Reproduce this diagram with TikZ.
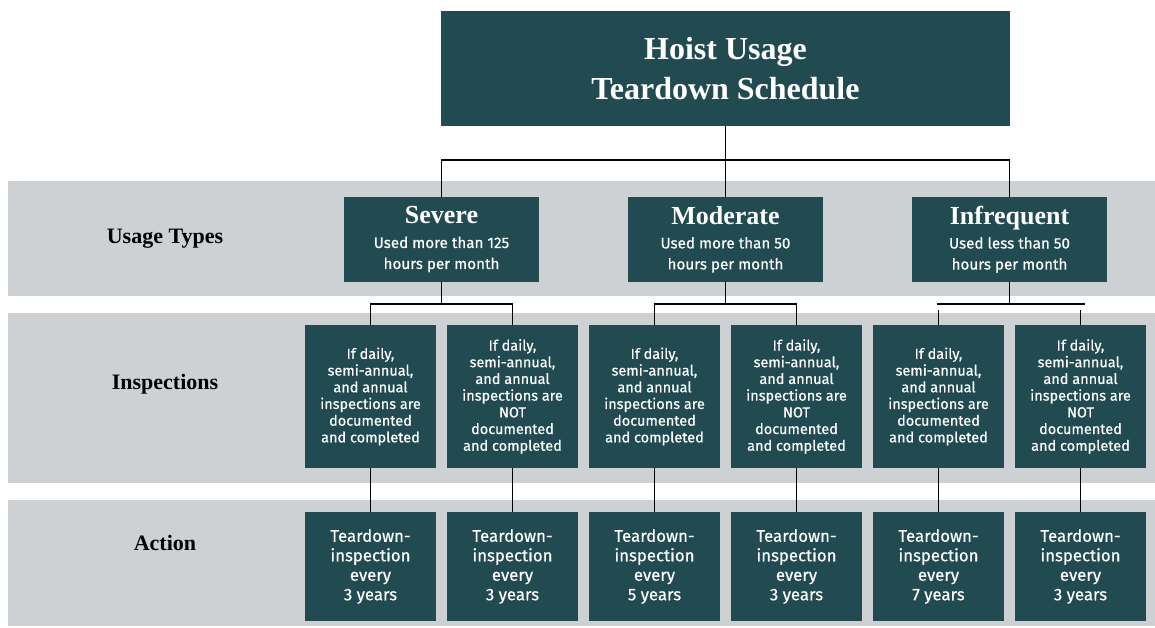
\documentclass[tikz,border=0pt]{standalone}
\usepackage{fontspec}
\setmainfont{Liberation Serif}
\newfontfamily\boxfont[FakeBold=0.5]{Fira Sans}
\definecolor{teal}{HTML}{214B51}
\definecolor{band}{HTML}{CED1D4}
\newcommand{\myuhd}[1]{{\rmfamily\bfseries\fontsize{26}{28}\selectfont #1}}
\begin{document}
\begin{tikzpicture}[x=1pt,y=-1pt,
  box/.style={fill=teal,text=white,inner sep=0pt,align=center,anchor=center},
  titlebox/.style={box,minimum width=569pt,minimum height=115pt,font=\bfseries\fontsize{32}{40}\selectfont},
  usebox/.style={box,minimum width=195pt,minimum height=85pt,font=\boxfont\fontsize{15.2}{21}\selectfont},
  inspbox/.style={box,minimum width=131pt,minimum height=143pt,font=\boxfont\fontsize{14.5}{16.7}\selectfont},
  actbox/.style={box,minimum width=131pt,minimum height=109pt,font=\boxfont\fontsize{16.8}{19.5}\selectfont},
  rowlabel/.style={font=\bfseries\fontsize{22}{24}\selectfont,anchor=center},
  conn/.style={draw=black,line width=1.8pt}
]
\useasboundingbox (0,0) rectangle (1155,627);
% bands
\fill[band] (8,181) rectangle (1155,296);
\fill[band] (8,313) rectangle (1155,483);
\fill[band] (8,500) rectangle (1155,626);
% row labels
\node[rowlabel] (lu) at (165,239) {Usage Types};
\node[rowlabel] (li) at (165,384) {Inspections};
\node[rowlabel] (la) at (165,543) {Action};
% title
\node[titlebox] (top) at (725.5,68.5) {Hoist Usage\\Teardown Schedule};
% usage boxes
\node[usebox] (sev) at (441.5,239.5) {\myuhd{Severe}\\[3pt]Used more than 125\\hours per month};
\node[usebox] (mod) at (725.5,239.5) {\myuhd{Moderate}\\[3pt]Used more than 50\\hours per month};
\node[usebox] (inf) at (1009.5,239.5) {\myuhd{Infrequent}\\[3pt]Used less than 50\\hours per month};
% inspection boxes
\node[inspbox] (i1) at (370.5,396.5) {If daily,\\semi-annual,\\and annual\\inspections are\\documented\\and completed};
\node[inspbox] (i2) at (512.5,396.5) {If daily,\\semi-annual,\\and annual\\inspections are\\NOT\\documented\\and completed};
\node[inspbox] (i3) at (654.5,396.5) {If daily,\\semi-annual,\\and annual\\inspections are\\documented\\and completed};
\node[inspbox] (i4) at (796.5,396.5) {If daily,\\semi-annual,\\and annual\\inspections are\\NOT\\documented\\and completed};
\node[inspbox] (i5) at (938.5,396.5) {If daily,\\semi-annual,\\and annual\\inspections are\\documented\\and completed};
\node[inspbox] (i6) at (1080.5,396.5) {If daily,\\semi-annual,\\and annual\\inspections are\\NOT\\documented\\and completed};
% action boxes
\node[actbox] (a1) at (370.5,566.5) {Teardown-\\inspection\\every\\3 years};
\node[actbox] (a2) at (512.5,566.5) {Teardown-\\inspection\\every\\3 years};
\node[actbox] (a3) at (654.5,566.5) {Teardown-\\inspection\\every\\5 years};
\node[actbox] (a4) at (796.5,566.5) {Teardown-\\inspection\\every\\3 years};
\node[actbox] (a5) at (938.5,566.5) {Teardown-\\inspection\\every\\7 years};
\node[actbox] (a6) at (1080.5,566.5) {Teardown-\\inspection\\every\\3 years};
% connectors
\coordinate (h1) at (725.5,160);
\coordinate (h2) at (0,304);
\draw[conn] (top.south) -- (h1);
\draw[conn] (sev.north) -- (sev.north |- h1) -- (inf.north |- h1) -- (inf.north);
\draw[conn] (h1) -- (mod.north);
\draw[conn] (sev.south) -- (sev.south |- h2);
\draw[conn] (i1.north) -- (i1.north |- h2) -- (i2.north |- h2) -- (i2.north);
\draw[conn] (mod.south) -- (mod.south |- h2);
\draw[conn] (i3.north) -- (i3.north |- h2) -- (i4.north |- h2) -- (i4.north);
\draw[conn] (inf.south) -- (inf.south |- h2);
\draw[conn] ([xshift=-2pt]i5.north |- h2) -- ([xshift=4pt]i6.north |- h2);
\draw[conn] (i5.north) -- ++(0,-15);
\draw[conn] (i6.north) -- ++(0,-15);
\foreach \n in {1,...,6}{\draw[conn] (i\n.south) -- (a\n.north);}
\end{tikzpicture}
\end{document}
